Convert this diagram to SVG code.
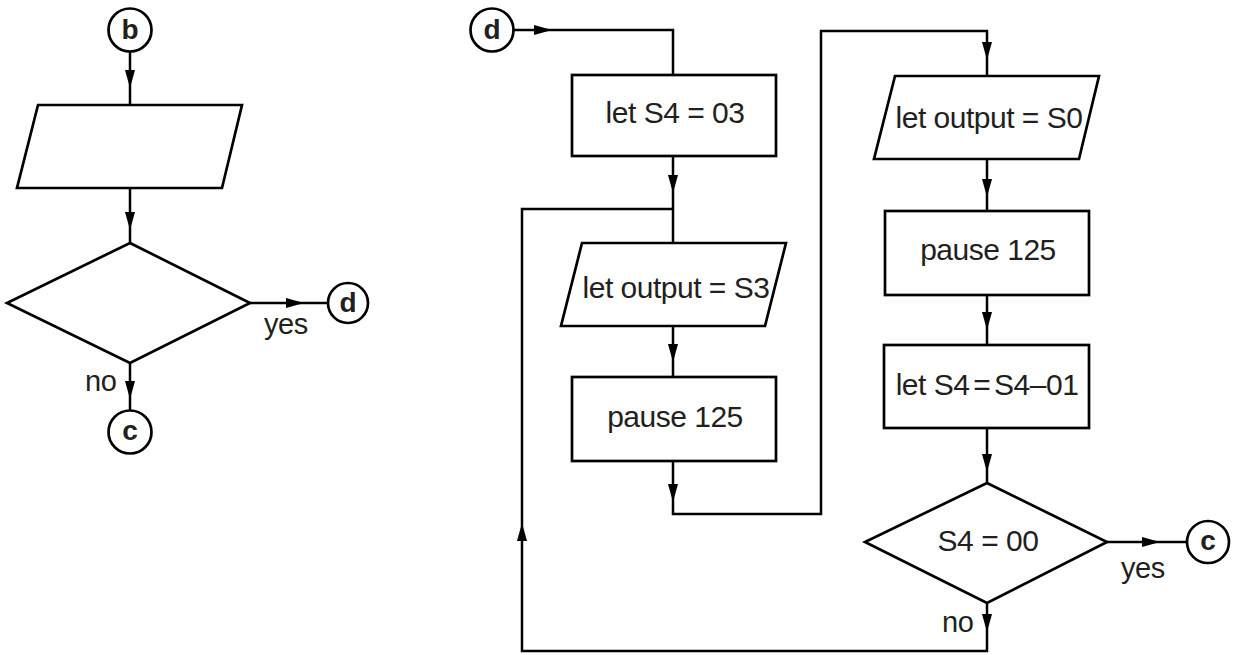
<svg xmlns="http://www.w3.org/2000/svg" width="1233" height="655" viewBox="0 0 1233 655">
<defs>
<marker id="ah" viewBox="0 0 18 10" markerWidth="18" markerHeight="10" refX="18" refY="5" orient="auto" markerUnits="userSpaceOnUse">
<path d="M0,0 L18,5 L0,10 z" fill="#000"/>
</marker>
<style>
.shape{fill:#fff;stroke:#000;stroke-width:2.7}
.conn path{fill:none;stroke:#000;stroke-width:2.5}
.arr{marker-end:url(#ah)}
.lbl{font-family:"Liberation Sans",Arial,sans-serif;font-size:30px;letter-spacing:-0.5px;fill:#231f20;text-anchor:middle}
.lab{font-family:"Liberation Sans",Arial,sans-serif;font-size:29px;letter-spacing:-0.5px;fill:#231f20}
.ltr{font-family:"Liberation Sans",Arial,sans-serif;font-size:28px;font-weight:bold;fill:#231f20;text-anchor:middle}
</style>
</defs>
<rect width="1233" height="655" fill="#fff"/>

<g class="conn" id="connectors">
<!-- left chart -->
<path class="arr" d="M130,52 V88"/><path d="M130,88 V105"/>
<path class="arr" d="M130,188 V230"/><path d="M130,230 V243"/>
<path class="arr" d="M250,303 H304"/><path d="M304,303 H328"/>
<path class="arr" d="M130,363 V399"/><path d="M130,399 V411"/>
<!-- right chart -->
<path class="arr" d="M514,30 H552"/><path d="M552,30 H673 V75"/>
<path class="arr" d="M673,156 V193"/><path d="M673,193 V243"/>
<path class="arr" d="M673,326 V362"/><path d="M673,362 V377"/>
<path class="arr" d="M673,461 V502"/><path class="arr" d="M673,502 V514 H821 V31 H987 V60"/><path d="M987,60 V76"/>
<path class="arr" d="M987,159 V197"/><path d="M987,197 V211"/>
<path class="arr" d="M987,295 V330"/><path d="M987,330 V345"/>
<path class="arr" d="M987,428 V472"/><path d="M987,472 V483"/>
<path class="arr" d="M1107,542 H1160"/><path d="M1160,542 H1187"/>
<path class="arr" d="M987,603 V632"/><path class="arr" d="M987,632 V651 H522 V523"/><path d="M522,523 V209 H673"/>
</g>

<g id="node-b"><circle class="shape" cx="130" cy="30" r="21.5"/><text class="ltr" x="130" y="39">b</text></g>
<g id="node-input"><polygon class="shape" points="38,105 242,105 222,188 17,188"/></g>
<g id="node-decision1"><polygon class="shape" points="130,243 250,303 130,363 7,303"/></g>
<g id="node-d1"><circle class="shape" cx="348" cy="303" r="20"/><text class="ltr" x="348" y="312">d</text></g>
<g id="node-c1"><circle class="shape" cx="130" cy="432" r="21.5"/><text class="ltr" x="130" y="440">c</text></g>
<g id="labels-left"><text class="lab" x="264" y="334">yes</text><text class="lab" x="85" y="391">no</text></g>

<g id="node-d2"><circle class="shape" cx="492" cy="30" r="21.5"/><text class="ltr" x="492" y="39">d</text></g>
<g id="node-s4-03"><rect class="shape" x="572" y="75" width="204" height="81"/><text class="lbl" x="675" y="123">let S4 = 03</text></g>
<g id="node-out-s3"><polygon class="shape" points="582,243 786,243 765,326 561,326"/><text class="lbl" x="676" y="298">let output = S3</text></g>
<g id="node-pause1"><rect class="shape" x="572" y="377" width="204" height="84"/><text class="lbl" x="675" y="427">pause 125</text></g>
<g id="node-out-s0"><polygon class="shape" points="895,76 1099,76 1079,159 874,159"/><text class="lbl" x="989" y="128">let output = S0</text></g>
<g id="node-pause2"><rect class="shape" x="885" y="211" width="204" height="84"/><text class="lbl" x="988" y="260">pause 125</text></g>
<g id="node-dec-s4"><rect class="shape" x="884" y="345" width="205" height="83"/><text class="lbl" x="987" y="395">let S4<tspan dx="-4"> </tspan>=<tspan dx="-4"> </tspan>S4–01</text></g>
<g id="node-decision2"><polygon class="shape" points="987,483 1107,542 987,603 865,542"/><text class="lbl" x="988" y="551">S4 = 00</text></g>
<g id="node-c2"><circle class="shape" cx="1208" cy="542" r="21"/><text class="ltr" x="1208" y="550">c</text></g>
<g id="labels-right"><text class="lab" x="1121" y="578">yes</text><text class="lab" x="942" y="632">no</text></g>
</svg>
